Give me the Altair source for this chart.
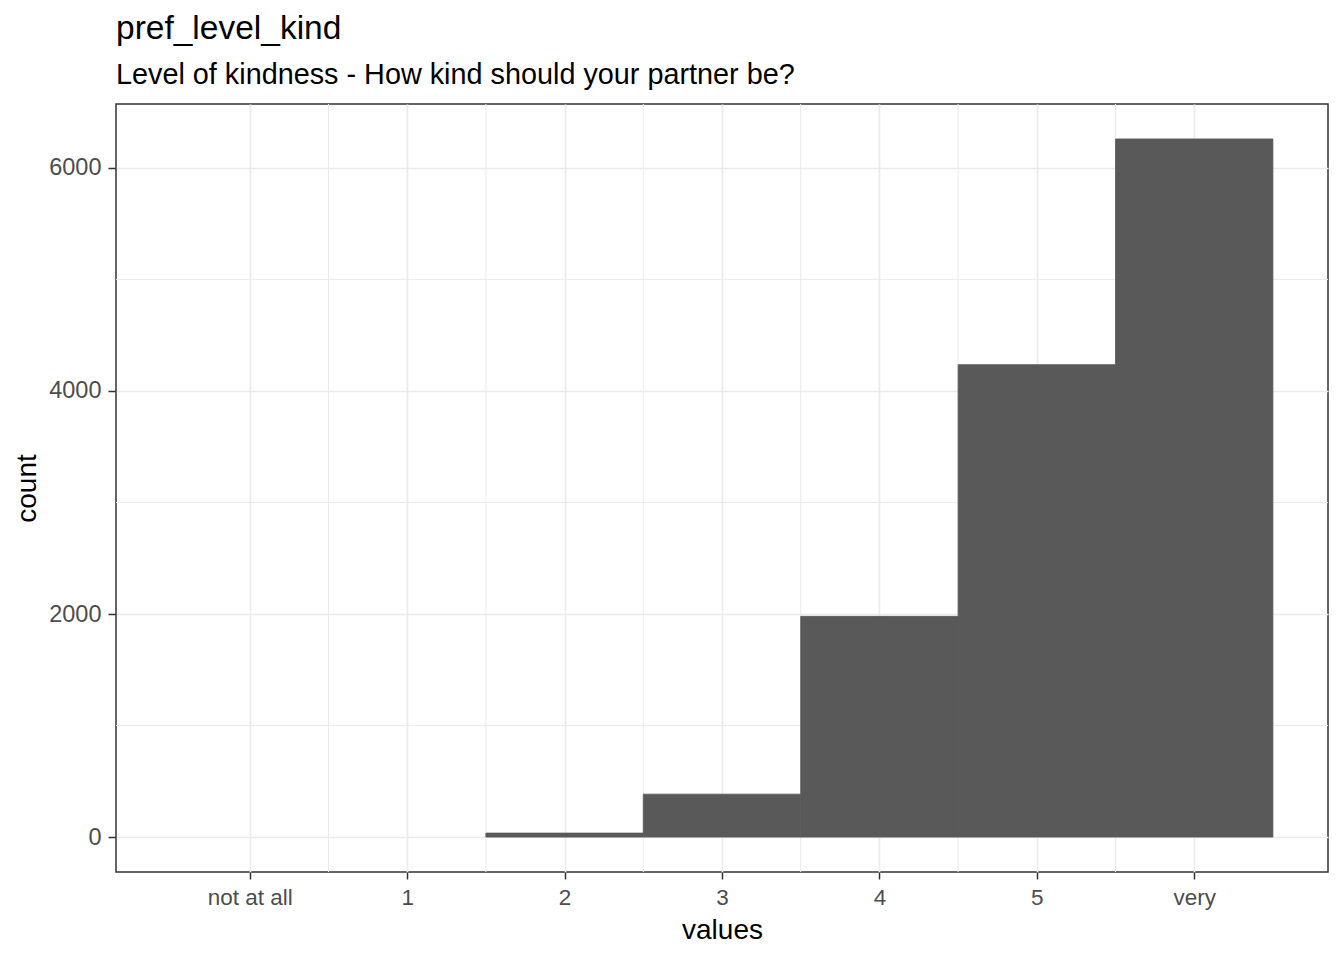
import pandas as pd
import altair as alt

# histogram of pref_level_kind
tick_labels = ["not at all", "1", "2", "3", "4", "5", "very"]
positions = [0, 1, 2, 3, 4, 5, 6]
counts = [0, 0, 36, 385, 1979, 4236, 6260]
minor_x = [0.5, 1.5, 2.5, 3.5, 4.5, 5.5]
minor_y = [1000, 3000, 5000]

font = "Liberation Sans"
grid_color = "#EBEBEB"

bars_df = pd.DataFrame({"pos": positions, "count": counts})
bars_df["lo"] = bars_df["pos"] - 0.5
bars_df["hi"] = bars_df["pos"] + 0.5

label_expr = "[" + ",".join('"%s"' % t for t in tick_labels) + "][round(datum.value)]"

x_scale = alt.Scale(domain=[-0.85, 6.85], nice=False, zero=False)
y_scale = alt.Scale(domain=[-313, 6573], nice=False, zero=False)

x_axis = alt.Axis(values=positions, labelExpr=label_expr, title="values", grid=True,
                  gridColor=grid_color, gridWidth=1.7, domain=False,
                  tickColor="#333333", tickSize=7, tickWidth=1.5,
                  labelColor="#4D4D4D", labelFontSize=22.5, labelFont=font, labelPadding=7,
                  titleFont=font, titleFontSize=28, titleFontWeight="normal", titleColor="black",
                  titlePadding=8)
y_axis = alt.Axis(values=[0, 2000, 4000, 6000], format="d", title="count", grid=True,
                  gridColor=grid_color, gridWidth=1.7, domain=False,
                  tickColor="#333333", tickSize=8, tickWidth=1.5,
                  labelColor="#4D4D4D", labelFontSize=23.5, labelFont=font, labelPadding=7,
                  titleFont=font, titleFontSize=28, titleFontWeight="normal", titleColor="black",
                  titlePadding=7)

vminor = alt.Chart(pd.DataFrame({"x": minor_x})).mark_rule(color=grid_color, strokeWidth=1).encode(
    x=alt.X("x:Q", scale=x_scale, axis=x_axis))
hminor = alt.Chart(pd.DataFrame({"y": minor_y})).mark_rule(color=grid_color, strokeWidth=1).encode(
    y=alt.Y("y:Q", scale=y_scale, axis=y_axis))

bars = alt.Chart(bars_df).transform_filter("datum.count > 0").mark_rect(
    color="#595959", stroke="#595959", strokeWidth=0.8).encode(
    x=alt.X("lo:Q", scale=x_scale, axis=x_axis),
    x2="hi:Q",
    y=alt.Y("count:Q", scale=y_scale, axis=y_axis),
    y2=alt.datum(0))

chart = alt.layer(vminor, hminor, bars).properties(
    width=1212, height=768,
    autosize=alt.AutoSizeParams(type="none"),
    padding={"left": 108, "top": 96, "right": 8, "bottom": 78},
    title=alt.TitleParams("pref_level_kind", subtitle="Level of kindness - How kind should your partner be?",
                          anchor="start", frame="group", font=font, fontSize=33.5, fontWeight="normal",
                          color="black", subtitleFont=font, subtitleFontSize=28.8, subtitleColor="black",
                          subtitlePadding=14, offset=13)
).configure_view(stroke="#333333", strokeWidth=1.5)

chart.save("out.html", embed_options={"renderer": "svg", "actions": False})
